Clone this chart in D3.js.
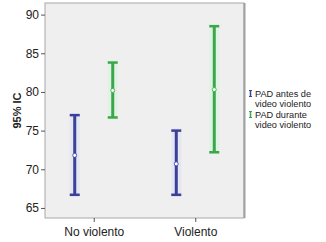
<!DOCTYPE html>
<html>
<head>
<meta charset="utf-8">
<script src="https://cdn.jsdelivr.net/npm/d3@7/dist/d3.min.js"></script>
<style>
  body { margin: 0; background: #fff; }
  text { font-family: Arial, "Liberation Sans", sans-serif; }
</style>
</head>
<body>
<svg id="chart" width="326" height="242"></svg>
<script>
// data
var groups = ["No violento", "Violento"];
var seriesNames = ["PAD antes de video violento", "PAD durante video violento"];
var seriesLegend = [["PAD antes de", "video violento"], ["PAD durante", "video violento"]];
var means = [[71.8, 70.7], [80.2, 80.3]];
var lower = [[66.7, 66.7], [76.7, 72.2]];
var upper = [[77.0, 75.0], [83.8, 88.5]];
var yTicks = [65, 70, 75, 80, 85, 90];
var colors = ["#3a3f98", "#3aa84a"];
var halos = ["#dfe3f7", "#d9f3de"];

var svg = d3.select("#chart");
var m = {left: 45, right: 244, top: 3, bottom: 218};

var y = d3.scaleLinear().domain([63.7, 91.5]).range([m.bottom, m.top]);
var x = d3.scalePoint().domain(groups).range([m.left, m.right]).padding(0.48);
var xs = d3.scalePoint().domain(d3.range(seriesNames.length)).range([-19, 19]);

// plot frame
svg.append("rect")
  .attr("x", m.left).attr("y", m.top)
  .attr("width", m.right - m.left).attr("height", m.bottom - m.top)
  .attr("fill", "#efefef").attr("stroke", "#a8a8a8").attr("stroke-width", 1);
svg.append("line")
  .attr("x1", m.right + 0.5).attr("x2", m.right + 0.5)
  .attr("y1", m.top).attr("y2", m.bottom)
  .attr("stroke", "#a0a0a0").attr("stroke-width", 2);

// axes
var yAxis = svg.append("g")
  .attr("transform", "translate(" + m.left + ",0)")
  .call(d3.axisLeft(y).tickValues(yTicks).tickSize(4).tickPadding(2));
yAxis.select(".domain").remove();
yAxis.selectAll("line").attr("stroke", "#555");
yAxis.selectAll("text").attr("font-size", 12).attr("fill", "#222");

var xAxis = svg.append("g")
  .attr("transform", "translate(0," + m.bottom + ")")
  .call(d3.axisBottom(x).tickSize(4).tickPadding(5));
xAxis.select(".domain").remove();
xAxis.selectAll("line").attr("stroke", "#555");
xAxis.selectAll("text").attr("font-size", 12).attr("fill", "#222");

svg.append("text")
  .attr("transform", "translate(21," + ((m.top + m.bottom) / 2) + ") rotate(-90)")
  .attr("text-anchor", "middle")
  .attr("font-size", 11).attr("font-weight", "bold").attr("fill", "#222")
  .text("95% IC");

// error bars
seriesNames.forEach(function(name, s) {
  var g = svg.append("g");
  groups.forEach(function(grp, i) {
    var cx = x(grp) + xs(s);
    var top = y(upper[s][i]), bot = y(lower[s][i]), mid = y(means[s][i]);
    g.append("rect")
      .attr("x", cx - 5).attr("y", top - 2)
      .attr("width", 10).attr("height", bot - top + 4)
      .attr("fill", halos[s]).attr("opacity", 0.7);
    g.append("line").attr("x1", cx).attr("x2", cx).attr("y1", top).attr("y2", bot)
      .attr("stroke", colors[s]).attr("stroke-width", 3);
    [top, bot].forEach(function(yy) {
      g.append("line").attr("x1", cx - 5).attr("x2", cx + 5).attr("y1", yy).attr("y2", yy)
        .attr("stroke", colors[s]).attr("stroke-width", 2.5);
    });
    g.append("circle").attr("cx", cx).attr("cy", mid).attr("r", 2)
      .attr("fill", "#fff").attr("stroke", colors[s]).attr("stroke-width", 0.8);
  });
});

// legend
var leg = svg.append("g").attr("transform", "translate(249,89)");
seriesNames.forEach(function(name, s) {
  var row = leg.append("g").attr("transform", "translate(0," + (s * 21) + ")");
  row.append("line").attr("x1", 1.5).attr("x2", 1.5).attr("y1", 1).attr("y2", 8)
    .attr("stroke", colors[s]).attr("stroke-width", 1.5);
  row.append("line").attr("x1", 0).attr("x2", 3).attr("y1", 1.5).attr("y2", 1.5)
    .attr("stroke", colors[s]).attr("stroke-width", 1);
  row.append("line").attr("x1", 0).attr("x2", 3).attr("y1", 7.5).attr("y2", 7.5)
    .attr("stroke", colors[s]).attr("stroke-width", 1);
  seriesLegend[s].forEach(function(t, k) {
    row.append("text").attr("x", 6).attr("y", 7.5 + k * 10)
      .attr("font-size", 9.2).attr("fill", "#222").text(t);
  });
});
</script>
</body>
</html>
